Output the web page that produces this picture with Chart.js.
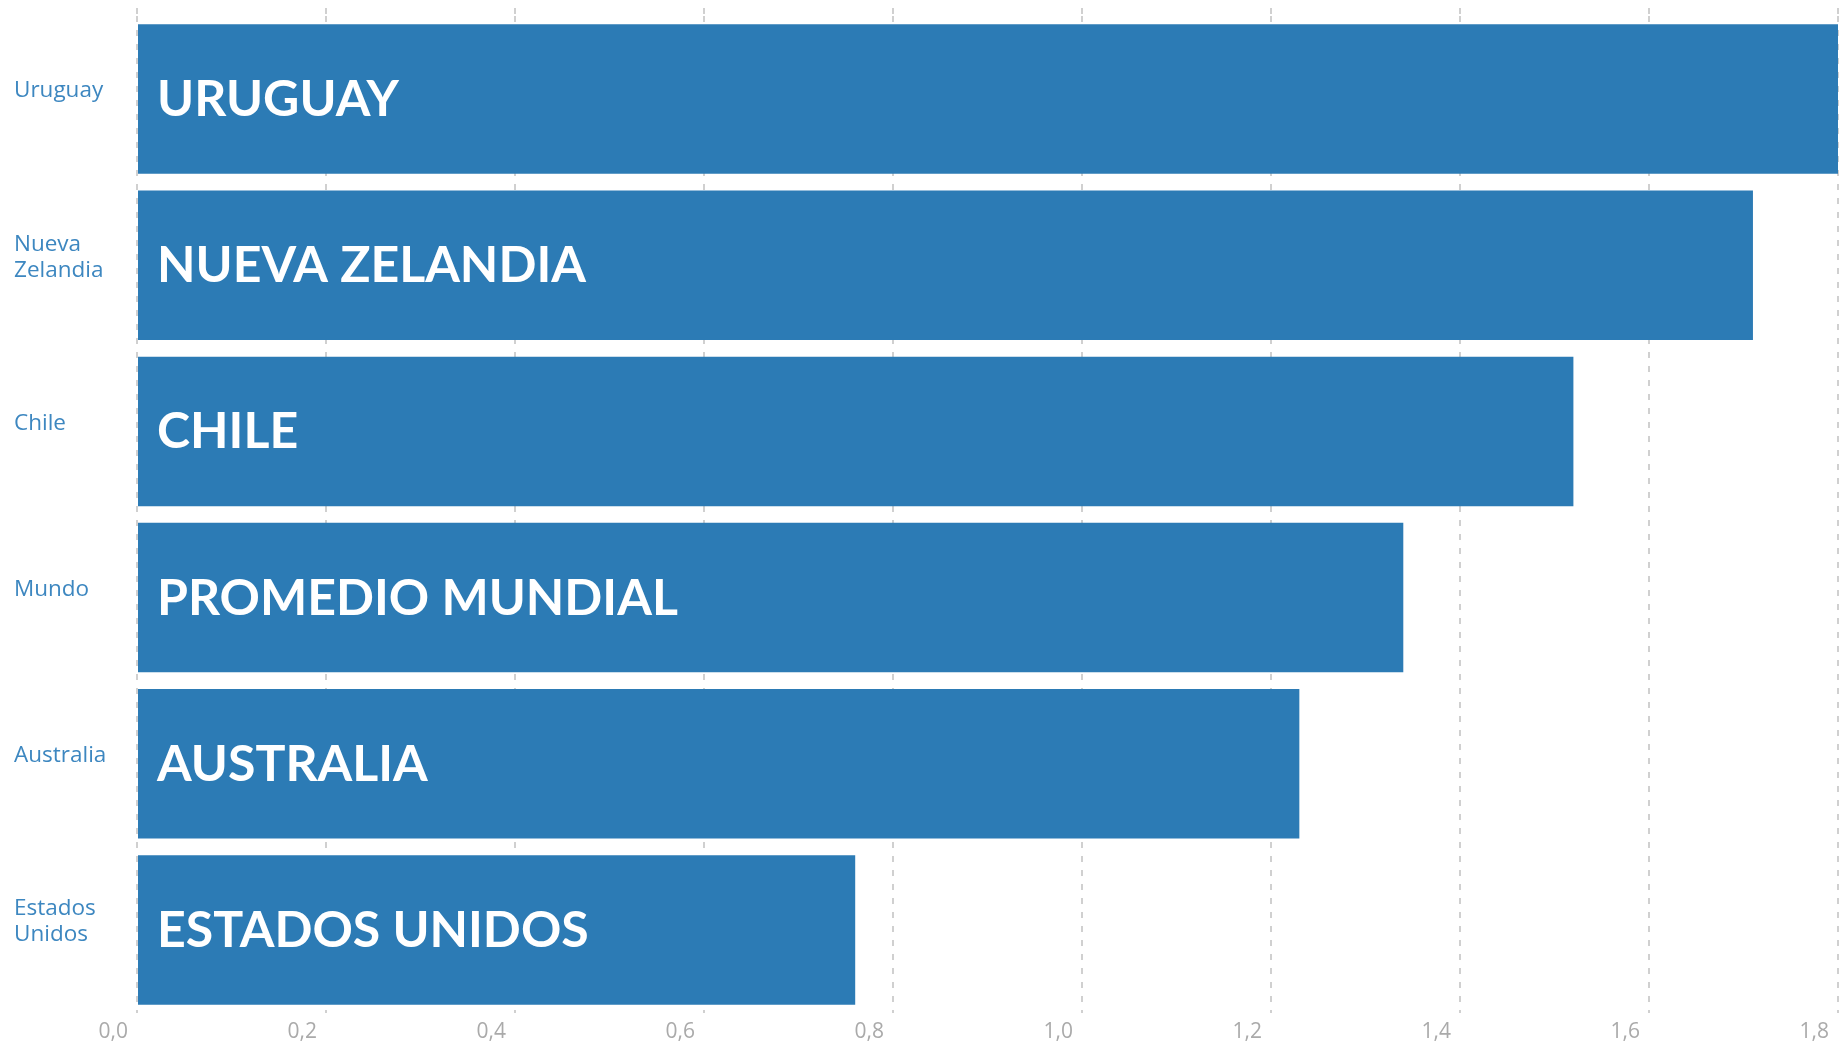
<!DOCTYPE html>
<html>
<head>
<meta charset="utf-8">
<script src="https://cdn.jsdelivr.net/npm/chart.js"></script>
<style>
  html, body { margin: 0; padding: 0; background: #fff; }
  #wrap { width: 1841px; height: 1043px; position: relative; }
</style>
</head>
<body>
<div id="wrap"><canvas id="myChart"></canvas></div>
<script>
var categories = ['Uruguay', ['Nueva', 'Zelandia'], 'Chile', 'Mundo', 'Australia', ['Estados', 'Unidos']];
var barLabels = ['URUGUAY', 'NUEVA ZELANDIA', 'CHILE', 'PROMEDIO MUNDIAL', 'AUSTRALIA', 'ESTADOS UNIDOS'];
var values = [1.80, 1.71, 1.52, 1.34, 1.23, 0.76];
var xTickLabels = ['0,0', '0,2', '0,4', '0,6', '0,8', '1,0', '1,2', '1,4', '1,6', '1,8'];

var barColor = '#2c7bb5';
var gridColor = '#d0d0d0';

// white caption inside each bar, placed from the bar element itself
var barTextPlugin = {
  id: 'barText',
  afterDatasetsDraw: function(chart) {
    var ctx = chart.ctx;
    var meta = chart.getDatasetMeta(0);
    ctx.save();
    ctx.fillStyle = '#ffffff';
    ctx.font = 'bold 50px Lato';
    ctx.textAlign = 'left';
    ctx.textBaseline = 'alphabetic';
    meta.data.forEach(function(bar, i) {
      ctx.fillText(barLabels[i], bar.base + 19, bar.y + 17);
    });
    ctx.restore();
  }
};

function noPad(axis) {
  axis.paddingTop = 0;
  axis.paddingBottom = 0;
  axis.paddingLeft = 0;
  axis.paddingRight = 0;
}

var myBar = new Chart(document.getElementById('myChart').getContext('2d'), {
  type: 'bar',
  data: {
    labels: categories,
    datasets: [{
      data: values,
      backgroundColor: barColor,
      borderWidth: 0,
      barPercentage: 0.9,
      categoryPercentage: 1.0
    }]
  },
  options: {
    indexAxis: 'y',
    responsive: true,
    maintainAspectRatio: false,
    animation: false,
    layout: { padding: { left: 14, right: 3, top: 8, bottom: 0 } },
    plugins: {
      legend: { display: false },
      tooltip: { enabled: false },
      title: { display: false }
    },
    scales: {
      x: {
        position: 'bottom',
        min: 0,
        max: 1.8,
        ticks: {
          stepSize: 0.2,
          align: 'end',
          labelOffset: -9,
          padding: 6,
          color: '#aaaaaa',
          font: { family: 'Open Sans', size: 21 },
          callback: function(value, index) { return xTickLabels[index]; }
        },
        grid: {
          color: gridColor,
          lineWidth: 2,
          drawTicks: false
        },
        border: { display: false, dash: [6, 8] },
        afterFit: function(axis) { axis.height = 30; noPad(axis); }
      },
      xTop: {
        type: 'linear',
        position: 'top',
        min: 0,
        max: 1.8,
        ticks: { display: false, stepSize: 0.2 },
        grid: {
          color: gridColor,
          lineWidth: 2,
          drawOnChartArea: false,
          drawTicks: true,
          tickLength: 8,
          tickBorderDash: [6, 8]
        },
        border: { display: false },
        afterFit: function(axis) { axis.height = 8; noPad(axis); }
      },
      y: {
        ticks: {
          crossAlign: 'far',
          labelOffset: -8,
          padding: 0,
          color: '#3d87c0',
          font: { family: 'Open Sans', size: 22.5, lineHeight: 1.15 }
        },
        grid: { display: false },
        border: { display: false },
        afterFit: function(axis) { axis.width = 123; noPad(axis); }
      }
    }
  },
  plugins: [barTextPlugin]
});
</script>
</body>
</html>
